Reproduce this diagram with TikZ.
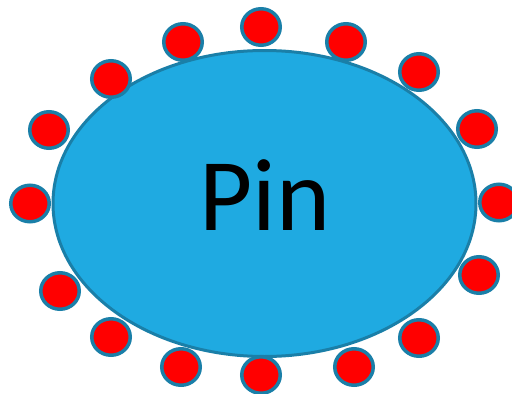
\documentclass[tikz,border=0pt]{standalone}
\usepackage{fontspec}
\setmainfont{Carlito}
\usetikzlibrary{shapes.geometric}
\definecolor{cellfill}{HTML}{1FAAE1}
\definecolor{cellline}{HTML}{1A7FA8}
\definecolor{pinred}{HTML}{FF0000}
\tikzset{
  cell/.style={ellipse, draw=cellline, fill=cellfill, line width=3pt, minimum width=423pt, minimum height=306pt, inner sep=0pt},
  pinball/.style={ellipse, draw=cellline, fill=pinred, line width=3.5pt, minimum width=38.5pt, minimum height=36.5pt, inner sep=0pt},
  lbl/.style={font=\fontsize{103}{110}\selectfont, text=black, inner sep=0pt}
}
\begin{document}
\begin{tikzpicture}[x=1pt,y=-1pt]
\useasboundingbox (0,0) rectangle (512,394);
\node[cell] (cell) at (264.5,203.5) {};
\node[lbl, anchor=base] (pin) at (265,230) {Pin};
\foreach \n/\x/\y in {1/261/27, 2/183/42, 3/111/79, 4/49/130, 5/30/203.5, 6/60/291, 7/111/337, 8/181/367, 9/261/375, 10/354/367, 11/419/338, 12/479/275, 13/499/202.5, 14/477/129, 15/419/72, 16/346/42}
  \node[pinball] (p\n) at (\x,\y) {};
\end{tikzpicture}
\end{document}
